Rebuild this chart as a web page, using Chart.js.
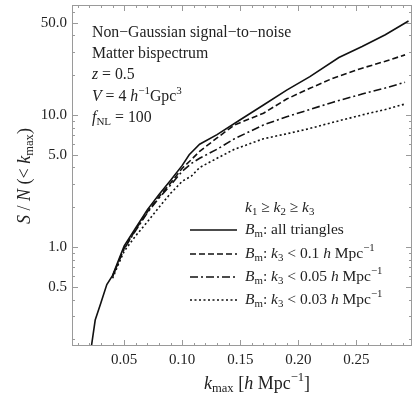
<!DOCTYPE html>
<html>
<head>
<meta charset="utf-8">
<script src="https://cdn.jsdelivr.net/npm/chart.js@4.4.1/dist/chart.umd.min.js"></script>
<style>
  html, body { margin: 0; padding: 0; background: #fff; }
  #wrap { width: 419px; height: 398px; }
</style>
</head>
<body>
<div id="wrap"><canvas id="snChart"></canvas></div>
<script>
// k_max values and cumulative S/N for all triangles
const kAll = [0.021, 0.025, 0.03, 0.035, 0.04, 0.045, 0.05, 0.06, 0.07, 0.08, 0.09, 0.1, 0.106, 0.115, 0.13, 0.15, 0.17, 0.19, 0.21, 0.235, 0.255, 0.275, 0.295];
const snAll = [0.16, 0.28, 0.38, 0.52, 0.61, 0.79, 1.02, 1.40, 1.92, 2.5, 3.2, 4.15, 5.0, 6.0, 7.1, 9.2, 11.9, 15.4, 19.5, 27.2, 33, 40.5, 51.5];

// k_max values for the squeezed-limit cuts
const kCut = [0.04, 0.045, 0.05, 0.06, 0.07, 0.08, 0.09, 0.1, 0.108, 0.115, 0.13, 0.145, 0.17, 0.19, 0.21, 0.23, 0.255, 0.275, 0.292];
const snK01 = [0.6, 0.77, 0.98, 1.36, 1.85, 2.4, 3.05, 3.95, 4.6, 5.3, 6.7, 8.4, 10.3, 13.2, 15.9, 19.0, 22.6, 25.5, 28.5];
const snK005 = [0.6, 0.77, 0.97, 1.34, 1.82, 2.35, 2.95, 3.75, 4.3, 4.7, 5.5, 6.6, 8.4, 9.7, 11.0, 12.5, 14.4, 16.0, 17.7];
const snK003 = [0.58, 0.74, 0.93, 1.22, 1.55, 2.0, 2.55, 3.15, 3.45, 4.0, 4.7, 5.5, 6.6, 7.2, 7.9, 8.8, 10.0, 11.0, 12.1];

const xTicks = [0.05, 0.10, 0.15, 0.20, 0.25];
const yTicks = [0.5, 1, 5, 10, 50];

const serif = '"Liberation Serif", "Times New Roman", serif';
const ink = '#222';
const frameCol = '#9a9a9a';

function pts(xs, ys) {
    return xs.map((x, i) => ({ x: x, y: ys[i] }));
}

// draw a run of text pieces: [text, kind] with kind r / i / sub / sup
function rich(ctx, x, y, parts, size, align) {
    const fontFor = kind => {
        const small = kind === 'sub' || kind === 'sup';
        const it = kind === 'i';
        return (it ? 'italic ' : '') + (small ? size * 0.7 : size) + 'px ' + serif;
    };
    let total = 0;
    parts.forEach(p => { ctx.font = fontFor(p[1]); total += ctx.measureText(p[0]).width; });
    let cx = align === 'center' ? x - total / 2 : x;
    ctx.textBaseline = 'middle';
    ctx.textAlign = 'left';
    parts.forEach(p => {
        ctx.font = fontFor(p[1]);
        let dy = 0;
        if (p[1] === 'sub') dy = size * 0.28;
        if (p[1] === 'sup') dy = -size * 0.35;
        ctx.fillText(p[0], cx, y + dy);
        cx += ctx.measureText(p[0]).width;
    });
}

const datasets = [
    { label: 'all', data: pts(kAll, snAll), borderDash: [] },
    { label: 'k3<0.1', data: pts(kCut, snK01), borderDash: [6, 3] },
    { label: 'k3<0.05', data: pts(kCut, snK005), borderDash: [8, 3, 2, 3] },
    { label: 'k3<0.03', data: pts(kCut, snK003), borderDash: [2, 2.5] }
].map(d => Object.assign(d, {
    borderColor: '#111',
    borderWidth: 1.6,
    pointRadius: 0,
    fill: false,
    tension: 0
}));

const framePlugin = {
    id: 'frame',
    afterDatasetsDraw(chart) {
        const ctx = chart.ctx;
        const a = chart.chartArea;
        const xs = chart.scales.x, ys = chart.scales.y;
        ctx.save();
        ctx.strokeStyle = frameCol;
        ctx.lineWidth = 1;
        ctx.strokeRect(a.left + 0.5, a.top + 0.5, a.right - a.left - 1, a.bottom - a.top - 1);
        ctx.beginPath();
        // x ticks, bottom and top
        for (let i = 1; i <= 29; i++) {
            const v = i / 100;
            const px = Math.round(xs.getPixelForValue(v)) + 0.5;
            const len = i % 5 === 0 ? 6 : 3;
            ctx.moveTo(px, a.bottom); ctx.lineTo(px, a.bottom - len);
            ctx.moveTo(px, a.top); ctx.lineTo(px, a.top + len);
        }
        // y ticks, left and right
        [0.1, 1, 10].forEach(dec => {
            for (let m = 1; m <= 9; m++) {
                const v = dec * m;
                if (v < ys.min || v > ys.max) continue;
                const py = Math.round(ys.getPixelForValue(v)) + 0.5;
                const len = (m === 1 || m === 5) ? 6 : 3;
                ctx.moveTo(a.left, py); ctx.lineTo(a.left + len, py);
                ctx.moveTo(a.right, py); ctx.lineTo(a.right - len, py);
            }
        });
        ctx.stroke();

        ctx.fillStyle = ink;
        // annotation block
        const tx = 92, fs = 15.8;
        rich(ctx, tx, 33, [['Non\u2212Gaussian signal\u2212to\u2212noise', 'r']], fs);
        rich(ctx, tx, 54, [['Matter bispectrum', 'r']], fs);
        rich(ctx, tx, 75, [['z', 'i'], [' = 0.5', 'r']], fs);
        rich(ctx, tx, 97, [['V', 'i'], [' = 4 ', 'r'], ['h', 'i'], ['\u22121', 'sup'], ['Gpc', 'r'], ['3', 'sup']], fs);
        rich(ctx, tx, 118, [['f', 'i'], ['NL', 'sub'], [' = 100', 'r']], fs);

        // legend
        const lx0 = 190, lx1 = 237, lt = 245, ls = 15.5;
        rich(ctx, lt, 208, [['k', 'i'], ['1', 'sub'], [' \u2265 ', 'r'], ['k', 'i'], ['2', 'sub'], [' \u2265 ', 'r'], ['k', 'i'], ['3', 'sub']], ls);
        const rows = [230, 254, 277, 300];
        const labels = [
            [['B', 'i'], ['m', 'sub'], [': all triangles', 'r']],
            [['B', 'i'], ['m', 'sub'], [': ', 'r'], ['k', 'i'], ['3', 'sub'], [' < 0.1 ', 'r'], ['h', 'i'], [' Mpc', 'r'], ['\u22121', 'sup']],
            [['B', 'i'], ['m', 'sub'], [': ', 'r'], ['k', 'i'], ['3', 'sub'], [' < 0.05 ', 'r'], ['h', 'i'], [' Mpc', 'r'], ['\u22121', 'sup']],
            [['B', 'i'], ['m', 'sub'], [': ', 'r'], ['k', 'i'], ['3', 'sub'], [' < 0.03 ', 'r'], ['h', 'i'], [' Mpc', 'r'], ['\u22121', 'sup']]
        ];
        chart.data.datasets.forEach((d, i) => {
            ctx.save();
            ctx.strokeStyle = d.borderColor;
            ctx.lineWidth = d.borderWidth;
            ctx.setLineDash(d.borderDash);
            ctx.beginPath();
            ctx.moveTo(lx0, rows[i]); ctx.lineTo(lx1, rows[i]);
            ctx.stroke();
            ctx.restore();
            rich(ctx, lt, rows[i], labels[i], ls);
        });

        // axis titles
        rich(ctx, 257, 384, [['k', 'i'], ['max', 'sub'], [' [', 'r'], ['h', 'i'], [' Mpc', 'r'], ['\u22121', 'sup'], [']', 'r']], 18, 'center');
        ctx.save();
        ctx.translate(25, 176);
        ctx.rotate(-Math.PI / 2);
        rich(ctx, 0, 0, [['S', 'i'], [' / ', 'r'], ['N', 'i'], [' (< ', 'r'], ['k', 'i'], ['max', 'sub'], [')', 'r']], 18, 'center');
        ctx.restore();
        ctx.restore();
    }
};

const ctx = document.getElementById('snChart').getContext('2d');

const snChart = new Chart(ctx, {
    type: 'line',
    data: { datasets: datasets },
    options: {
        responsive: true,
        maintainAspectRatio: false,
        animation: false,
        layout: { padding: { left: 0, right: 7, top: 5, bottom: 0 } },
        plugins: { legend: { display: false }, tooltip: { enabled: false } },
        scales: {
            x: {
                type: 'linear',
                min: 0.005,
                max: 0.298,
                afterBuildTicks: s => { s.ticks = xTicks.map(v => ({ value: v })); },
                afterFit: s => { s.height = 52; s.paddingLeft = 0; s.paddingRight = 0; },
                grid: { display: false, drawTicks: false },
                border: { display: false },
                ticks: {
                    padding: 5,
                    color: ink,
                    font: { family: serif, size: 15 },
                    callback: v => v.toFixed(2)
                }
            },
            y: {
                type: 'logarithmic',
                min: 0.178,
                max: 68,
                afterBuildTicks: s => { s.ticks = yTicks.map(v => ({ value: v })); },
                afterFit: s => { s.width = 72; s.paddingTop = 0; s.paddingBottom = 0; },
                grid: { display: false, drawTicks: false },
                border: { display: false },
                ticks: {
                    padding: 5,
                    color: ink,
                    font: { family: serif, size: 15 },
                    callback: v => v.toFixed(1)
                }
            }
        }
    },
    plugins: [framePlugin]
});
</script>
</body>
</html>
